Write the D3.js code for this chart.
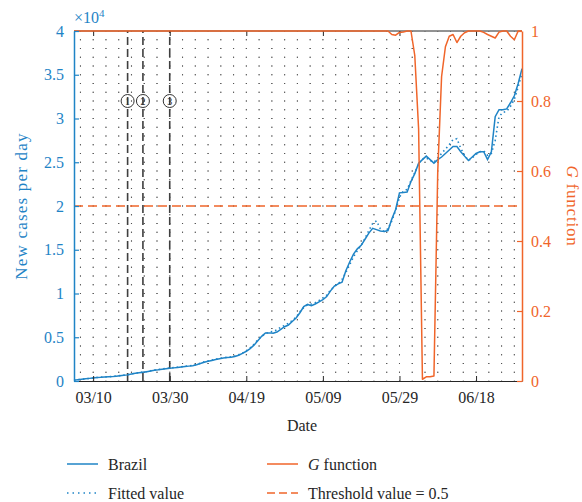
<!DOCTYPE html>
<html>
<head>
<meta charset="utf-8">
<script src="https://cdn.jsdelivr.net/npm/d3@7"></script>
<style>
  html, body { margin: 0; padding: 0; background: #fff; }
  svg, svg text { font-family: "Times New Roman", Tinos, "Liberation Serif", "DejaVu Serif", "Noto Serif", Times, serif; }
</style>
</head>
<body>
<svg id="chart" width="582" height="502"></svg>
<script>
// Daily series, one value per day starting 2020-03-05
const startDay = "2020-03-05";
const endDay = "2020-06-30";

// Brazil: new confirmed cases per day
const brazil = [
  100, 150, 200, 250, 300, 350, 400, 420, 450, 480,
  500, 550, 600, 650, 700, 800, 880, 950, 1000, 1060,
  1150, 1220, 1280, 1350, 1400, 1450, 1500, 1550, 1600, 1650,
  1700, 1750, 1850, 2000, 2150, 2250, 2350, 2450, 2550, 2620,
  2680, 2720, 2800, 2950, 3150, 3400, 3700, 4100, 4600, 5100,
  5500, 5500, 5450, 5600, 5900, 6200, 6400, 6800, 7200, 7800,
  8500, 8750, 8600, 8800, 9050, 9300, 9650, 10300, 10850, 11100,
  11300, 12600, 13600, 14500, 15100, 15500, 16200, 16900, 17450, 17300,
  17140, 17100, 17200, 18500, 19600, 21500, 21550, 21600, 22800, 23700,
  24900, 25300, 25700, 25300, 24900, 25300, 25600, 26000, 26400, 26800,
  26800, 26200, 25700, 25200, 25600, 26000, 26200, 26200, 25300, 26200,
  30200, 31000, 31000, 31100, 31800, 32600, 34000, 35700
];

// Fitted model output for the same days
const fitted = [
  100, 150, 200, 250, 300, 350, 400, 430, 460, 490,
  520, 560, 610, 660, 720, 810, 890, 960, 1020, 1080,
  1170, 1250, 1310, 1380, 1430, 1480, 1530, 1580, 1630, 1680,
  1730, 1790, 1890, 2040, 2190, 2290, 2390, 2490, 2580, 2650,
  2710, 2760, 2850, 3000, 3200, 3450, 3800, 4200, 4700, 5100,
  5400, 5600, 5650, 5850, 6150, 6350, 6600, 6900, 7300, 7900,
  8400, 8700, 8800, 8950, 9200, 9500, 9800, 10400, 10800, 11100,
  11600, 12400, 13300, 14200, 14900, 15500, 16300, 17200, 18000, 18300,
  17400, 17100, 17400, 18300, 19500, 21000, 21700, 21900, 22900, 23800,
  24800, 25400, 25500, 25200, 25000, 25500, 26000, 26500, 27000, 27600,
  27700, 26600, 25800, 25200, 25500, 25900, 26200, 26300, 25800, 26000,
  27500, 30200, 30700, 30800, 31400, 32200, 33600, 35200
];

// G function values (right axis)
const gFunction = [
  1, 1, 1, 1, 1, 1, 1, 1, 1, 1,
  1, 1, 1, 1, 1, 1, 1, 1, 1, 1,
  1, 1, 1, 1, 1, 1, 1, 1, 1, 1,
  1, 1, 1, 1, 1, 1, 1, 1, 1, 1,
  1, 1, 1, 1, 1, 1, 1, 1, 1, 1,
  1, 1, 1, 1, 1, 1, 1, 1, 1, 1,
  1, 1, 1, 1, 1, 1, 1, 1, 1, 1,
  1, 1, 1, 1, 1, 1, 1, 1, 1, 1,
  1, 1, 1, 0.99, 0.988, 0.996, 0.997, 1, 1, 0.93,
  0.72, 0.005, 0.012, 0.012, 0.014, 0.6, 0.87, 0.955, 0.985, 0.99,
  0.967, 0.985, 0.995, 1, 1, 1, 1, 0.996, 0.99, 0.985,
  0.98, 0.997, 1, 1, 0.985, 0.975, 1, 1
];

const threshold = 0.5;

// Intervention dates marked with numbered circles
const markerDates = ["2020-03-19", "2020-03-23", "2020-03-30"];
const markerLabels = ["1", "2", "3"];
const markerLevel = 32000;

// Axis ticks
const xTickDates = ["2020-03-10", "2020-03-30", "2020-04-19", "2020-05-09", "2020-05-29", "2020-06-18"];
const xTickLabels = ["03/10", "03/30", "04/19", "05/09", "05/29", "06/18"];
const yLeftTicks = [0, 5000, 10000, 15000, 20000, 25000, 30000, 35000, 40000];
const yLeftLabels = ["0", "0.5", "1", "1.5", "2", "2.5", "3", "3.5", "4"];
const yRightTicks = [0, 0.2, 0.4, 0.6, 0.8, 1];
const yRightLabels = ["0", "0.2", "0.4", "0.6", "0.8", "1"];

const BLUE = "#1f84c6";
const ORANGE = "#f0652a";
const SERIF = '"Times New Roman", Tinos, "Liberation Serif", "DejaVu Serif", "Noto Serif", Times, serif';

const parse = d3.utcParse("%Y-%m-%d");
const t0 = parse(startDay);
const days = brazil.map((_, i) => d3.utcDay.offset(t0, i));

const svg = d3.select("#chart");
const L = 74, R = 522, T = 31, B = 381;

const x = d3.scaleUtc().domain([t0, parse(endDay)]).range([L, R]);
const yL = d3.scaleLinear().domain([0, 40000]).range([B, T]);
const yR = d3.scaleLinear().domain([0, 1]).range([B, T]);

svg.append("rect").attr("width", 582).attr("height", 502).attr("fill", "#fff");

// Minor dotted grid (sparse dots)
const grid = svg.append("g").attr("stroke", "#333").attr("stroke-width", 1).attr("opacity", 0.85);
const dayMs = 864e5;
const minorStep = 20 / 6 * dayMs;
const anchor = parse(xTickDates[0]).getTime();
const vx = [];
for (let k = -10; k < 200; k++) {
  const t = anchor + k * minorStep;
  const px = x(new Date(t));
  if (px > L + 2 && px < R - 2) vx.push(px);
}
const hy = d3.range(1000, 40000, 1000).map(v => yL(v));
grid.selectAll("line.v").data(vx).join("line")
  .attr("x1", d => d).attr("x2", d => d)
  .attr("y1", B).attr("y2", T)
  .attr("stroke-dasharray", "1,7.75")
  .attr("stroke-dashoffset", 0.5);
grid.selectAll("line.h").data(hy).join("line")
  .attr("x1", L).attr("x2", R)
  .attr("y1", d => d).attr("y2", d => d)
  .attr("stroke-dasharray", "1,11.76")
  .attr("stroke-dashoffset", -6);

// Vertical dashed markers
svg.append("g").selectAll("line").data(markerDates).join("line")
  .attr("x1", d => x(parse(d))).attr("x2", d => x(parse(d)))
  .attr("y1", B).attr("y2", T)
  .attr("stroke", "#3f3f3f").attr("stroke-width", 1.6)
  .attr("stroke-dasharray", "8,4");

// Threshold line
svg.append("line")
  .attr("x1", L).attr("x2", R)
  .attr("y1", yR(threshold)).attr("y2", yR(threshold))
  .attr("stroke", ORANGE).attr("stroke-width", 1.5)
  .attr("stroke-dasharray", "9,5");

// Series lines
const lineL = d3.line().x((d, i) => x(days[i])).y(d => yL(d));
const lineR = d3.line().x((d, i) => x(days[i])).y(d => yR(d));

svg.append("path").datum(brazil).attr("d", lineL)
  .attr("fill", "none").attr("stroke", BLUE).attr("stroke-width", 1.5);
svg.append("path").datum(fitted).attr("d", lineL)
  .attr("fill", "none").attr("stroke", BLUE).attr("stroke-width", 1.6)
  .attr("stroke-dasharray", "1.5,3");

// Axes
const xTicks = xTickDates.map(parse);
const fmtX = d => xTickLabels[xTicks.findIndex(t => t.getTime() === d.getTime())];

svg.append("line").attr("x1", L).attr("x2", R).attr("y1", T).attr("y2", T)
  .attr("stroke", "#262626").attr("stroke-width", 1);

const gTop = svg.append("g").attr("transform", `translate(0,${T})`)
  .call(d3.axisTop(x).tickValues(xTicks).tickFormat("").tickSizeInner(-5).tickSizeOuter(0));
gTop.select(".domain").remove();
gTop.selectAll("line").attr("stroke", "#262626");

const gBottom = svg.append("g").attr("transform", `translate(0,${B})`)
  .call(d3.axisBottom(x).tickValues(xTicks).tickFormat(fmtX).tickSizeInner(-5).tickSizeOuter(0).tickPadding(11));
gBottom.attr("font-family", SERIF).attr("font-size", 16);
gBottom.select(".domain").attr("stroke", "#262626").attr("stroke-width", 1.2);
gBottom.selectAll("line").attr("stroke", "#262626");
gBottom.selectAll("text").attr("fill", "#262626");

// G function drawn over the top frame
svg.append("path").datum(gFunction).attr("d", lineR)
  .attr("fill", "none").attr("stroke", ORANGE).attr("stroke-width", 1.5)
  .attr("stroke-linejoin", "round");

const gLeft = svg.append("g").attr("transform", `translate(${L},0)`)
  .call(d3.axisLeft(yL).tickValues(yLeftTicks).tickFormat((d, i) => yLeftLabels[i]).tickSizeInner(-5).tickSizeOuter(0).tickPadding(10));
gLeft.attr("font-family", SERIF).attr("font-size", 16);
gLeft.select(".domain").attr("stroke", BLUE).attr("stroke-width", 1.5);
gLeft.selectAll("line").attr("stroke", BLUE).attr("stroke-width", 1.2);
gLeft.selectAll("text").attr("fill", BLUE);

const gRight = svg.append("g").attr("transform", `translate(${R},0)`)
  .call(d3.axisRight(yR).tickValues(yRightTicks).tickFormat((d, i) => yRightLabels[i]).tickSizeInner(-5).tickSizeOuter(0).tickPadding(9));
gRight.attr("font-family", SERIF).attr("font-size", 16);
gRight.select(".domain").attr("stroke", ORANGE).attr("stroke-width", 1.5);
gRight.selectAll("line").attr("stroke", ORANGE).attr("stroke-width", 1.2);
gRight.selectAll("text").attr("fill", ORANGE);

// Numbered circles on the marker lines
const marks = svg.append("g").selectAll("g").data(markerDates).join("g")
  .attr("transform", d => `translate(${x(parse(d))},${yL(markerLevel)})`);
marks.append("circle").attr("r", 6.5).attr("fill", "none")
  .attr("stroke", "#333").attr("stroke-width", 1);
marks.append("text").text((d, i) => markerLabels[i])
  .attr("text-anchor", "middle").attr("dy", "0.35em")
  .attr("font-size", 10).attr("fill", "#333");

// Exponent label
const ex = svg.append("text").attr("x", L).attr("y", 23)
  .attr("font-size", 16).attr("fill", BLUE);
ex.append("tspan").text("×10");
ex.append("tspan").text("4").attr("font-size", 11).attr("dy", -6);

// Axis titles
svg.append("text").attr("transform", "translate(27,206) rotate(-90)")
  .attr("text-anchor", "middle").attr("font-size", 17).attr("letter-spacing", 1.2)
  .attr("fill", BLUE).text("New cases per day");

const gt = svg.append("text").attr("transform", "translate(567,206) rotate(90)")
  .attr("text-anchor", "middle").attr("font-size", 17).attr("letter-spacing", 0.8)
  .attr("fill", ORANGE);
gt.append("tspan").attr("font-style", "italic").text("G");
gt.append("tspan").text(" function");

svg.append("text").attr("x", 302).attr("y", 431).attr("text-anchor", "middle")
  .attr("font-size", 16).attr("fill", "#262626").text("Date");

// Legend
const legendItems = [
  { label: "Brazil", color: BLUE, dash: null, x: 67, y: 464 },
  { label: "Fitted value", color: BLUE, dash: "1.5,4", x: 67, y: 493 },
  { label: "G function", color: ORANGE, dash: null, x: 267, y: 464, italicFirst: true },
  { label: "Threshold value = 0.5", color: ORANGE, dash: "8,4", x: 267, y: 493 }
];
const lg = svg.append("g").selectAll("g").data(legendItems).join("g");
lg.append("line")
  .attr("x1", d => d.x).attr("x2", d => d.x + 31)
  .attr("y1", d => d.y).attr("y2", d => d.y)
  .attr("stroke", d => d.color).attr("stroke-width", 1.5)
  .attr("stroke-dasharray", d => d.dash);
lg.each(function(d) {
  const t = d3.select(this).append("text")
    .attr("x", d.x + 41).attr("y", d.y + 5.5)
    .attr("font-size", 16).attr("fill", "#262626");
  if (d.italicFirst) {
    t.append("tspan").attr("font-style", "italic").text("G");
    t.append("tspan").text(" function");
  } else {
    t.text(d.label);
  }
});
</script>
</body>
</html>
